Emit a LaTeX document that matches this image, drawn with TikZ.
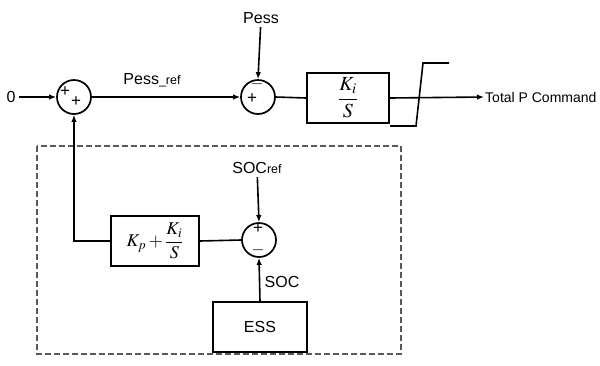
\documentclass[tikz,border=0pt]{standalone}
\usepackage{amsmath}
\usepackage{mathptmx}
\usepackage[no-math]{fontspec}
\setmainfont{Liberation Sans}
\usetikzlibrary{arrows.meta, positioning}

\tikzset{
  sumnode/.style={circle, draw, line width=1.7pt, minimum size=34pt, inner sep=0pt},
  blockbox/.style={draw, line width=1.7pt, minimum height=50pt, inner sep=2pt},
  sgn/.style={font=\fontsize{17}{17}\selectfont, inner sep=0pt},
  wire/.style={line width=1.6pt},
}

\begin{document}
\begin{tikzpicture}[x=1pt, y=-1pt, >={Latex[length=7pt,width=5.5pt]},
    every node/.append style={font=\fontsize{16}{18}\selectfont}]
    \useasboundingbox (0,0) rectangle (600,365);

    % upper loop
    \node (zero) at (11,97) {0};
    \node[sumnode] (sumA) at (74,97) {};
    \node[sumnode] (sumB) at (258,97) {};
    \node (pess) at (261,18) {Pess};
    \node[blockbox, minimum width=82pt, font=\fontsize{20}{22}\selectfont] (intg) at (348,98) {$\dfrac{K_i}{S}$};
    \node[anchor=west, inner sep=1pt, font=\fontsize{14}{16}\selectfont] (total) at (484,97) {Total P Command};
    \node (pessref) at (152,80) {Pess{\fontsize{12.5}{14}\selectfont\_ref}};

    % signs
    \node[sgn] at (65,92) {+};
    \node[sgn] at (76,102) {+};
    \node[sgn] at (257,84) {$-$};
    \node[sgn] at (252,99) {+};

    % saturation
    \draw[wire] (390,126) -- (416,126) -- (423,63) -- (449,63);

    % SOC loop
    \draw[black!65, line width=1.7pt, dash pattern=on 6pt off 3pt]
      (37,146) rectangle (401,354);
    \node[sumnode] (sumC) at (259,240) {};
    \node[sgn] at (258,229) {+};
    \node[sgn] at (258,250) {$-$};
    \node[blockbox, minimum width=88pt, inner sep=0pt, font=\fontsize{18}{20}\selectfont] (pictl) at (155,241) {$K_p+\dfrac{K_i}{S}$};
    \node[blockbox, minimum width=94pt] (ess) at (260,327) {ESS};
    \node (socref) at (257,168) {SOC{\fontsize{12.5}{14}\selectfont ref}};
    \node (soc) at (282,282) {SOC};

    % connectors
    \draw[wire, ->] (zero) -- (sumA.west);
    \draw[wire, ->] (sumA.east) -- (sumB.west);
    \draw[wire, ->] (pess) -- (sumB.north);
    \draw[wire] (sumB.east) -- (intg.west);
    \draw[wire, ->] (intg.east) -- (total.west);
    \draw[wire, ->] (socref) -- (sumC.north);
    \draw[wire, ->] (ess.north) -- (sumC.south);
    \draw[wire] (sumC.west) -- (pictl.east);
    \draw[wire, ->] (pictl.west) -| (sumA.south);

\end{tikzpicture}
\end{document}
